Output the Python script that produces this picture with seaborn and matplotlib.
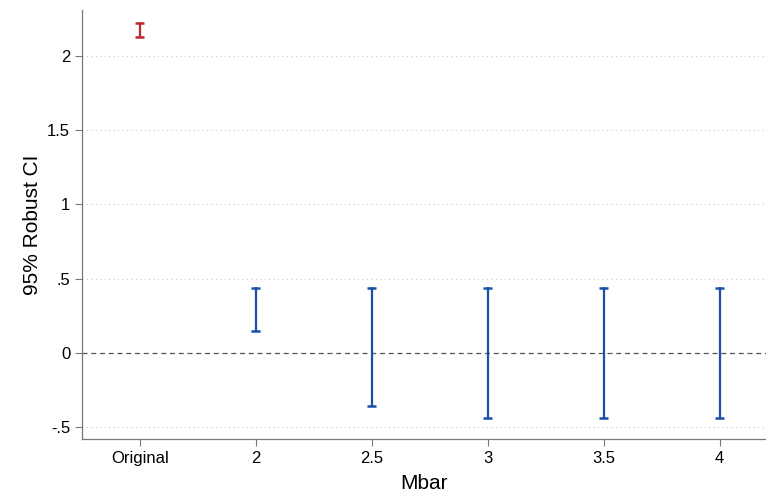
import pandas as pd
import matplotlib
matplotlib.use('Agg')
import matplotlib.pyplot as plt
import seaborn as sns

# data
labels = ['Original', '2', '2.5', '3', '3.5', '4']
xpos = [1.5, 2.0, 2.5, 3.0, 3.5, 4.0]
lower = [2.128, 0.148, -0.357, -0.438, -0.438, -0.438]
upper = [2.222, 0.438, 0.438, 0.438, 0.438, 0.438]
kind = ['orig', 'mbar', 'mbar', 'mbar', 'mbar', 'mbar']

rows = []
for i in range(len(labels)):
    rows.append({'x': xpos[i], 'ci': lower[i], 'grp': labels[i], 'kind': kind[i]})
    rows.append({'x': xpos[i], 'ci': upper[i], 'grp': labels[i], 'kind': kind[i]})
df = pd.DataFrame(rows)

pal = {'orig': '#c0282d', 'mbar': '#1a4fa8'}

sns.set_style('white')
plt.rcParams['font.family'] = ['Liberation Sans', 'DejaVu Sans']

fig, ax = plt.subplots(figsize=(7.66, 4.96), dpi=100)
fig.subplots_adjust(left=0.107, right=1.0, top=0.98, bottom=0.115)

# gridlines and zero reference line
for yv in [-0.5, 0.5, 1, 1.5, 2]:
    ax.axhline(yv, color='#c8c8c8', lw=0.8, ls=(0, (1, 3)), zorder=0)
ax.axhline(0, color='#555555', lw=0.9, ls=(0, (4, 3)), zorder=1)

sns.lineplot(data=df, x='x', y='ci', units='grp', estimator=None, hue='kind',
             palette=pal, lw=1.6, legend=False, ax=ax, sort=False)
sns.scatterplot(data=df, x='x', y='ci', hue='kind', palette=pal, marker='_',
                s=42, linewidth=1.8, legend=False, ax=ax, zorder=3)

ax.set_xlim(1.25, 4.2)
ax.set_ylim(-0.58, 2.31)
ax.set_xticks(xpos)
ax.set_xticklabels(labels)
ax.set_yticks([-0.5, 0, 0.5, 1, 1.5, 2])
ax.set_yticklabels(['-.5', '0', '.5', '1', '1.5', '2'])
ax.set_xlabel('Mbar', fontsize=15, color='black', labelpad=6)
ax.set_ylabel('95% Robust CI', fontsize=15, color='black', labelpad=4)
ax.tick_params(axis='both', labelsize=12, length=5, width=0.8,
               color='#777777', labelcolor='black', direction='out',
               left=True, bottom=True)

for s in ['top', 'right']:
    ax.spines[s].set_visible(False)
for s in ['left', 'bottom']:
    ax.spines[s].set_color('#777777')
    ax.spines[s].set_linewidth(0.9)

plt.savefig('out.png', dpi=100)
